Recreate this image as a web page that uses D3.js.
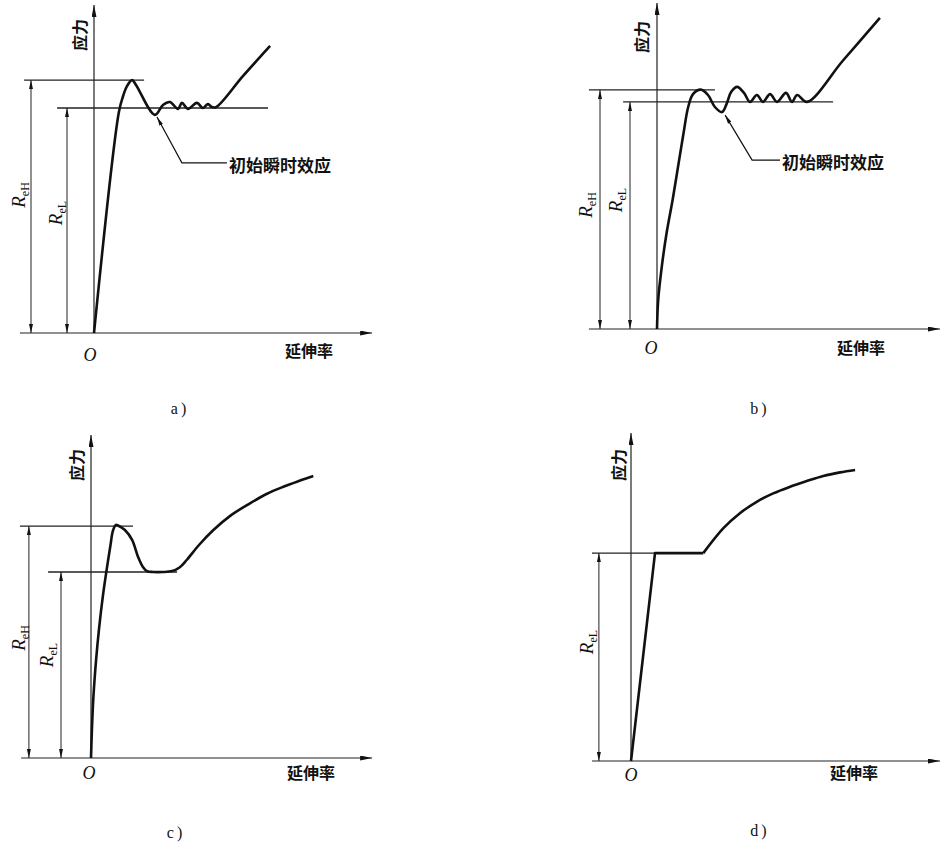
<!DOCTYPE html>
<html>
<head>
<meta charset="utf-8">
<script src="https://cdn.jsdelivr.net/npm/d3@7"></script>
<style>
body { margin: 0; background: #fff; }
svg { display: block; }
.cn { font-family: "Noto Sans CJK SC", sans-serif; font-weight: bold; fill: #111; }
.serif { font-family: "Liberation Serif", "DejaVu Serif", serif; fill: #111; }
</style>
</head>
<body>
<div id="chart"></div>
<script>
// stress-strain curves, [strain, stress] in arbitrary units
var curveA = [[0,0],[8.3,73.7],[9.7,79],[11,82.3],[12.7,84.3],[14,82.7],[20.3,72.7],[23,76],[25.3,77],
  [28,74.7],[29.3,76.7],[31.3,74.7],[34.3,76.7],[36.3,75],[38,76.3],[39.3,75.3],[40.7,75.3],[49.7,85.7],[58.7,95.7]];
var curveB = [[0,0],[0.4,9.7],[1.6,20.8],[3.2,32],[5.2,43],[7,54],[8.8,65],[10.4,74],[12,78.3],[14.6,79.8],[17,78],
  [19.3,74],[21.7,72.3],[23.3,75.3],[24.7,79],[26.7,80.7],[29,78.7],[31,75.7],[33.3,78],[35.3,75.7],[37.7,78.3],
  [40,75.7],[43,78.7],[45,75.7],[46.7,78],[50,75.7],[62,89.5],[74.3,103.7]];
var curveC = [[0,0],[0.3,9.3],[0.8,20.3],[1.7,32.7],[2.7,43.3],[4,54.3],[5.3,63.3],[6.5,71],[7.3,75.7],[8.3,77.7],
  [9,77.5],[11.3,76],[13.7,72.7],[15.7,67],[17.3,63.7],[18.7,62.3],[20.7,62],[24,62],[27,62.3],[29.5,63.5],[31.9,66],
  [36,71],[40.8,76],[46.5,80.8],[53,84.9],[58.5,88],[64.1,90.4],[69.5,92.4],[74.1,94]];
var curveDElastic = [[0,0],[8,69.3],[24.1,69.3]];
var curveDHardening = [[24.1,69.3],[30.8,77.6],[36.3,82.6],[41.9,86.4],[47.4,89.2],[53,91.4],[58.6,93.3],
  [64.1,95],[69.7,96.2],[74.7,97]];

var upperYield = [84.3, 79.7, 77.3, null];
var lowerYield = [75, 75.7, 62, 69.3];
var upperLabels = ["eH", "eH", "eH", null];
var lowerLabels = ["eL", "eL", "eL", "eL"];
var captions = ["a)", "b)", "c)", "d)"];
var yLabel = "应力";
var xLabel = "延伸率";
var noteLabel = "初始瞬时效应";

var smooth = d3.curveCatmullRom.alpha(0.5);

// panel layout
var panels = [
  { curves: [[curveA, smooth]], ox: 94, oy: 333, xAxis: [-24.7, 92.7], yTop: 109.3,
    upperSpan: [-23.3, 16.7], lowerSpan: [-12.3, 58], upperDim: -21, lowerDim: -9,
    note: [[44.3,56.7],[29.3,56.7],[21,72]], noteText: [229, 164],
    yLab: [86, 35], uLab: [25, 195], lLab: [62, 213], oLab: [90, 355], xLab: [285, 350], cap: [180, 408] },
  { curves: [[curveB, smooth]], ox: 657, oy: 329, xAxis: [-22.7, 94.3], yTop: 108.7,
    upperSpan: [-22.7, 19.3], lowerSpan: [-11.3, 58.7], upperDim: -19, lowerDim: -9,
    note: [[41,56.3],[31.7,56.3],[22.7,71.3]], noteText: [782, 161],
    yLab: [648, 37], uLab: [592, 205], lLab: [622, 200], oLab: [651, 348], xLab: [837, 347], cap: [760, 408] },
  { curves: [[curveC, smooth]], ox: 91, oy: 758, xAxis: [-23.3, 93.7], yTop: 107.7,
    upperSpan: [-23.7, 14], lowerSpan: [-14.3, 28.7], upperDim: -20.7, lowerDim: -10,
    note: null,
    yLab: [83, 465], uLab: [25, 638], lLab: [53, 655], oLab: [89, 773], xLab: [287, 772], cap: [176, 832] },
  { curves: [[curveDElastic, d3.curveLinear], [curveDHardening, smooth]], ox: 631, oy: 761, xAxis: [-13, 103], yTop: 109.3,
    upperSpan: null, lowerSpan: [-13, 24], upperDim: null, lowerDim: -10.7,
    note: null,
    yLab: [625, 465], uLab: null, lLab: [593, 642], oLab: [631, 775], xLab: [830, 772], cap: [760, 830] }
];

var svg = d3.select("#chart").append("svg")
  .attr("width", 944)
  .attr("height", 844);

// arrow heads
var defs = svg.append("defs");
function marker(id, len, wid) {
  defs.append("marker")
    .attr("id", id)
    .attr("viewBox", "0 0 " + len + " " + wid)
    .attr("refX", len).attr("refY", wid / 2)
    .attr("markerWidth", len).attr("markerHeight", wid)
    .attr("markerUnits", "userSpaceOnUse")
    .attr("orient", "auto-start-reverse")
    .append("path")
    .attr("d", "M0,0L" + len + "," + (wid / 2) + "L0," + wid + "Z")
    .attr("fill", "#111");
}
marker("axisArrow", 12, 5);
marker("dimArrow", 9, 4);

panels.forEach(function(p, i) {
  var x = d3.scaleLinear().domain([0, 100]).range([p.ox, p.ox + 300]);
  var y = d3.scaleLinear().domain([0, 100]).range([p.oy, p.oy - 300]);
  var g = svg.append("g");

  // axes
  g.append("line")
    .attr("x1", x(p.xAxis[0])).attr("x2", x(p.xAxis[1]))
    .attr("y1", y(0)).attr("y2", y(0))
    .attr("stroke", "#222").attr("stroke-width", 1.2)
    .attr("marker-end", "url(#axisArrow)");
  g.append("line")
    .attr("x1", x(0)).attr("x2", x(0))
    .attr("y1", y(0)).attr("y2", y(p.yTop))
    .attr("stroke", "#222").attr("stroke-width", 1.2)
    .attr("marker-end", "url(#axisArrow)");

  // yield levels
  var levels = [];
  if (upperYield[i] != null) levels.push({ v: upperYield[i], span: p.upperSpan, dim: p.upperDim, lab: p.uLab, sub: upperLabels[i] });
  levels.push({ v: lowerYield[i], span: p.lowerSpan, dim: p.lowerDim, lab: p.lLab, sub: lowerLabels[i] });

  levels.forEach(function(l) {
    g.append("line")
      .attr("x1", x(l.span[0])).attr("x2", x(l.span[1]))
      .attr("y1", y(l.v)).attr("y2", y(l.v))
      .attr("stroke", "#222").attr("stroke-width", 1.3);
    g.append("line")
      .attr("x1", x(l.dim)).attr("x2", x(l.dim))
      .attr("y1", y(0)).attr("y2", y(l.v))
      .attr("stroke", "#222").attr("stroke-width", 1)
      .attr("marker-start", "url(#dimArrow)")
      .attr("marker-end", "url(#dimArrow)");
    var t = g.append("text")
      .attr("class", "serif")
      .attr("text-anchor", "middle")
      .attr("transform", "translate(" + l.lab[0] + "," + l.lab[1] + ") rotate(-90)");
    t.append("tspan").attr("font-style", "italic").attr("font-size", 19).text("R");
    t.append("tspan").attr("font-size", 12).attr("dy", 4).text(l.sub);
  });

  // curves
  p.curves.forEach(function(c) {
    var line = d3.line()
      .x(function(d) { return x(d[0]); })
      .y(function(d) { return y(d[1]); })
      .curve(c[1]);
    g.append("path")
      .datum(c[0])
      .attr("d", line)
      .attr("fill", "none")
      .attr("stroke", "#111")
      .attr("stroke-width", 2.6)
      .attr("stroke-linejoin", "round");
  });

  // annotation
  if (p.note) {
    g.append("path")
      .attr("d", d3.line().x(function(d) { return x(d[0]); }).y(function(d) { return y(d[1]); })(p.note))
      .attr("fill", "none")
      .attr("stroke", "#111")
      .attr("stroke-width", 1.2)
      .attr("marker-end", "url(#dimArrow)");
    g.append("text")
      .attr("class", "cn")
      .attr("x", p.noteText[0]).attr("y", p.noteText[1])
      .attr("dominant-baseline", "central")
      .attr("font-size", 17)
      .text(noteLabel);
  }

  // axis labels
  g.append("text")
    .attr("class", "cn")
    .attr("font-size", 16)
    .attr("text-anchor", "middle")
    .attr("transform", "translate(" + p.yLab[0] + "," + p.yLab[1] + ") rotate(-90)")
    .text(yLabel);
  g.append("text")
    .attr("class", "cn")
    .attr("font-size", 16)
    .attr("x", p.xLab[0]).attr("y", p.xLab[1])
    .attr("dominant-baseline", "central")
    .text(xLabel);
  g.append("text")
    .attr("class", "serif")
    .attr("font-style", "italic")
    .attr("font-size", 18)
    .attr("text-anchor", "middle")
    .attr("dominant-baseline", "central")
    .attr("x", p.oLab[0]).attr("y", p.oLab[1])
    .text("O");
  g.append("text")
    .attr("class", "serif")
    .attr("font-size", 16)
    .attr("letter-spacing", 3)
    .attr("text-anchor", "middle")
    .attr("dominant-baseline", "central")
    .attr("x", p.cap[0]).attr("y", p.cap[1])
    .text(captions[i]);
});
</script>
</body>
</html>
